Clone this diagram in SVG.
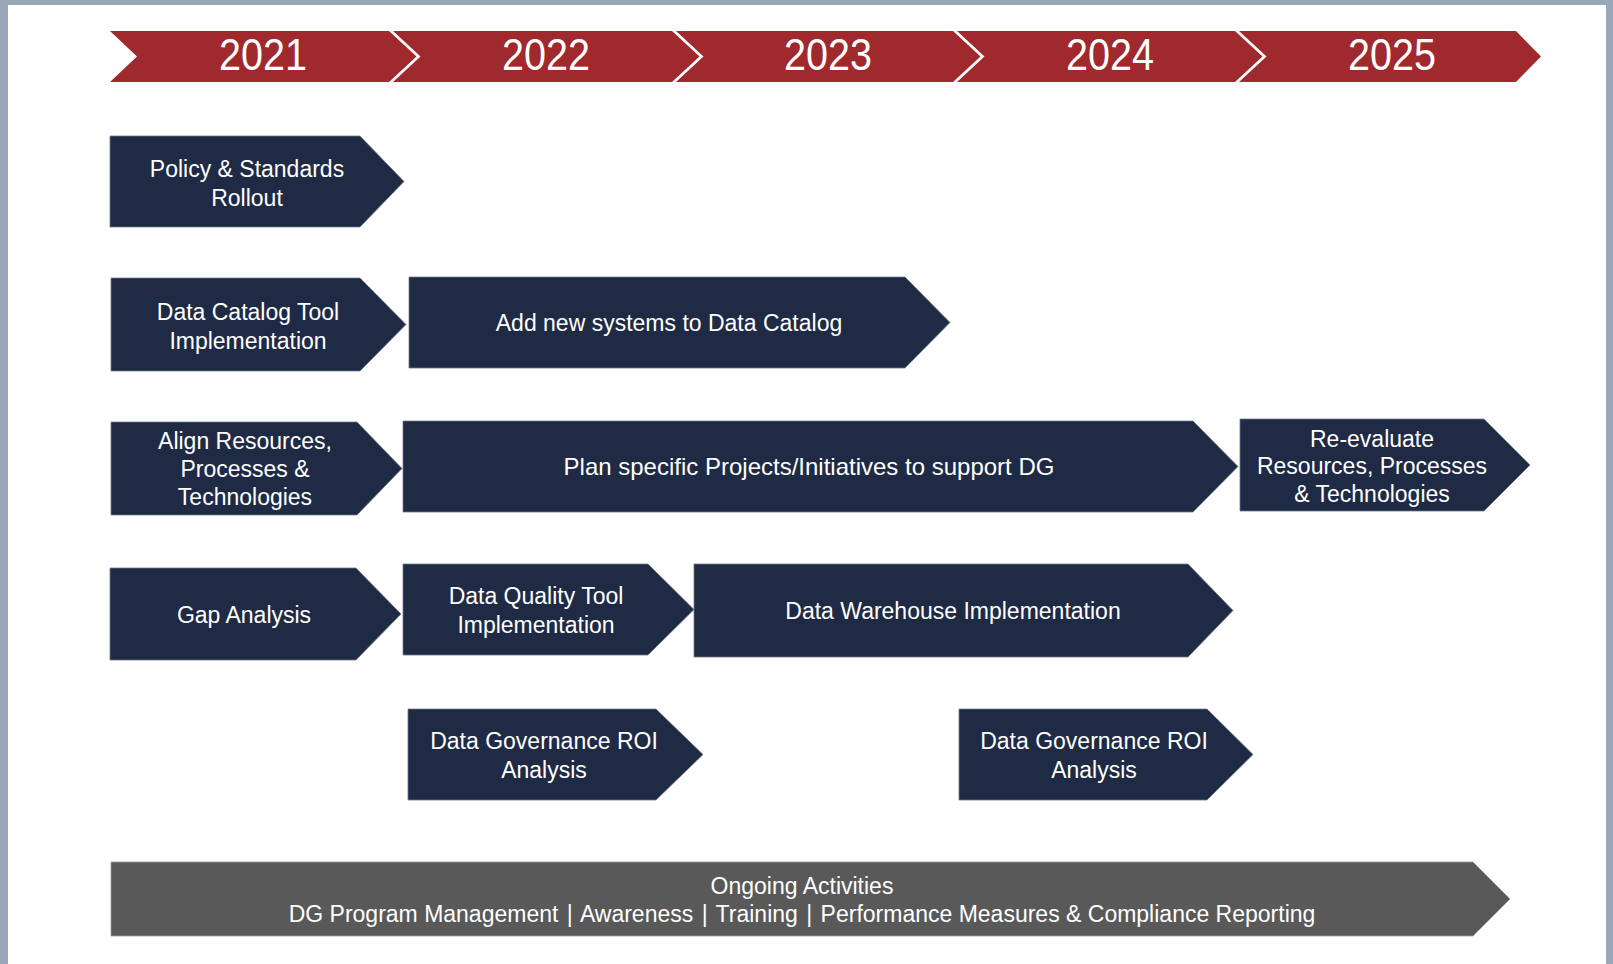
<svg xmlns="http://www.w3.org/2000/svg" width="1613" height="964" viewBox="0 0 1613 964">
  <style>
    .year { fill: #9f292c; }
    .year-label { font-family: "Liberation Sans", Arial, sans-serif; font-size: 45px; fill: #ffffff; text-anchor: middle; }
    .task { fill: #1f2a44; stroke: #6f7688; stroke-width: 0.8; }
    .ongoing { fill: #595959; stroke: #9a9a9a; stroke-width: 0.8; }
    .label { font-family: "Liberation Sans", Arial, sans-serif; font-size: 23px; fill: #ffffff; text-anchor: middle; }
    .wide { font-size: 24px; }
  </style>

  <!-- page frame -->
  <rect x="0" y="0" width="1613" height="964" fill="#9aa7b8"/>
  <rect x="8" y="5" width="1598" height="959" fill="#ffffff"/>

  <!-- year header -->
  <g id="year-2021">
    <polygon class="year" points="110,31 389,31 416.5,56.5 389,82 110,82 137,56.5"/>
    <text class="year-label" x="263" y="70" textLength="88" lengthAdjust="spacingAndGlyphs">2021</text>
  </g>
  <g id="year-2022">
    <polygon class="year" points="393,31 672,31 699.5,56.5 672,82 393,82 420.5,56.5"/>
    <text class="year-label" x="546" y="70" textLength="88" lengthAdjust="spacingAndGlyphs">2022</text>
  </g>
  <g id="year-2023">
    <polygon class="year" points="676,31 953,31 980.5,56.5 953,82 676,82 703.5,56.5"/>
    <text class="year-label" x="828" y="70" textLength="88" lengthAdjust="spacingAndGlyphs">2023</text>
  </g>
  <g id="year-2024">
    <polygon class="year" points="957,31 1235,31 1262.5,56.5 1235,82 957,82 984.5,56.5"/>
    <text class="year-label" x="1110" y="70" textLength="88" lengthAdjust="spacingAndGlyphs">2024</text>
  </g>
  <g id="year-2025">
    <polygon class="year" points="1239,31 1516,31 1541,56.5 1516,82 1239,82 1266.5,56.5"/>
    <text class="year-label" x="1392" y="70" textLength="88" lengthAdjust="spacingAndGlyphs">2025</text>
  </g>

  <!-- row 1 -->
  <g id="policy-standards">
    <path class="task" d="M110,136 H360 L404,181.5 L360,227 H110 Z"/>
    <text class="label" x="247" y="177">Policy &amp; Standards</text>
    <text class="label" x="247" y="205.5">Rollout</text>
  </g>

  <!-- row 2 -->
  <g id="data-catalog-tool">
    <path class="task" d="M111,278 H360 L406,324.5 L360,371 H111 Z"/>
    <text class="label" x="248" y="320">Data Catalog Tool</text>
    <text class="label" x="248" y="348.5">Implementation</text>
  </g>
  <g id="add-new-systems">
    <path class="task" d="M409,277 H905 L950,322.5 L905,368 H409 Z"/>
    <text class="label" x="669" y="331">Add new systems to Data Catalog</text>
  </g>

  <!-- row 3 -->
  <g id="align-resources">
    <path class="task" d="M111,422 H357 L402,468.5 L357,515 H111 Z"/>
    <text class="label" x="245" y="449">Align Resources,</text>
    <text class="label" x="245" y="477">Processes &amp;</text>
    <text class="label" x="245" y="505">Technologies</text>
  </g>
  <g id="plan-projects">
    <path class="task" d="M403,421 H1193 L1238,466.5 L1193,512 H403 Z"/>
    <text class="label wide" x="809" y="475">Plan specific Projects/Initiatives to support DG</text>
  </g>
  <g id="re-evaluate">
    <path class="task" d="M1240,419 H1484 L1530,465 L1484,511 H1240 Z"/>
    <text class="label" x="1372" y="446.5">Re-evaluate</text>
    <text class="label" x="1372" y="474.3">Resources, Processes</text>
    <text class="label" x="1372" y="502">&amp; Technologies</text>
  </g>

  <!-- row 4 -->
  <g id="gap-analysis">
    <path class="task" d="M110,568 H356 L401,614 L356,660 H110 Z"/>
    <text class="label" x="244" y="622.5">Gap Analysis</text>
  </g>
  <g id="data-quality-tool">
    <path class="task" d="M403,564 H648 L694,609.5 L648,655 H403 Z"/>
    <text class="label" x="536" y="604">Data Quality Tool</text>
    <text class="label" x="536" y="632.5">Implementation</text>
  </g>
  <g id="data-warehouse">
    <path class="task" d="M694,564 H1188 L1233,610.5 L1188,657 H694 Z"/>
    <text class="label" x="953" y="619">Data Warehouse Implementation</text>
  </g>

  <!-- row 5 -->
  <g id="roi-analysis-1">
    <path class="task" d="M408,709 H656 L703,754.5 L656,800 H408 Z"/>
    <text class="label" x="544" y="749">Data Governance ROI</text>
    <text class="label" x="544" y="777.5">Analysis</text>
  </g>
  <g id="roi-analysis-2">
    <path class="task" d="M959,709 H1207 L1253,754.5 L1207,800 H959 Z"/>
    <text class="label" x="1094" y="749">Data Governance ROI</text>
    <text class="label" x="1094" y="777.5">Analysis</text>
  </g>

  <!-- ongoing band -->
  <g id="ongoing-activities">
    <path class="ongoing" d="M111,862 H1473 L1510,899 L1473,936 H111 Z"/>
    <text class="label" x="802" y="894">Ongoing Activities</text>
    <text class="label" x="802" y="922">DG Program Management <tspan dx="2">|</tspan><tspan dx="2"> Awareness </tspan><tspan dx="2">|</tspan><tspan dx="2"> Training </tspan><tspan dx="2">|</tspan><tspan dx="2"> Performance Measures &amp; Compliance Reporting</tspan></text>
  </g>
</svg>
